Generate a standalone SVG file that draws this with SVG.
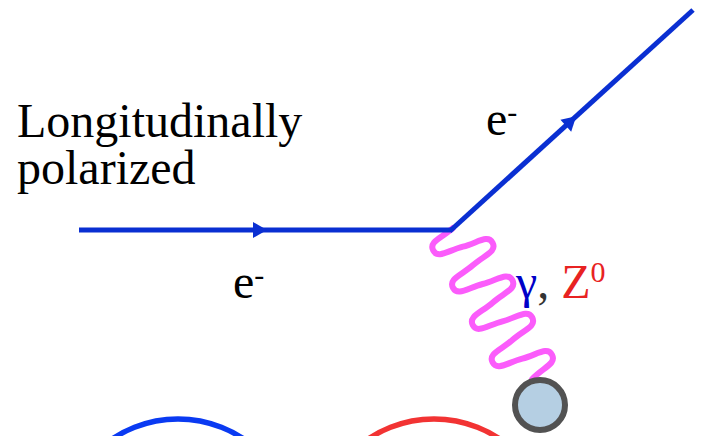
<svg xmlns="http://www.w3.org/2000/svg" width="702" height="436" viewBox="0 0 702 436">
<style>
.fermion{stroke:#0a2fd2;stroke-width:5;fill:none;stroke-linecap:butt}
.arrow{fill:#0a2fd2}
.boson{stroke:#fb5cfb;stroke-width:6;fill:none;stroke-linecap:round}
.txt{font-family:"Liberation Serif","Times New Roman",serif;font-size:48px;fill:#000}
.sup{font-size:30px}
</style>
<defs>
<path id="ah" d="M-7,-8 L7,0 L-7,8 Z"/>
</defs>
<rect width="702" height="436" fill="#fff"/>
<g id="connectors">
<path class="boson" d="M453,228 C441.69,237.98 428.51,241.62 433.2,250.46 C437.89,259.3 448.29,250.42 462.9,246.66 C477.51,242.9 487.91,234.02 492.6,242.86 C497.29,251.7 484.11,255.34 472.8,265.32 C461.49,275.3 448.31,278.94 453,287.78 C457.69,296.62 468.09,287.74 482.7,283.98 C497.31,280.22 507.71,271.34 512.4,280.18 C517.09,289.02 503.91,292.66 492.6,302.64 C481.29,312.62 468.11,316.26 472.8,325.1 C477.49,333.94 487.89,325.06 502.5,321.3 C517.11,317.54 527.51,308.66 532.2,317.5 C536.89,326.34 523.71,329.98 512.4,339.96 C501.09,349.94 487.91,353.58 492.6,362.42 C497.29,371.26 507.69,362.38 522.3,358.62 C536.91,354.86 547.31,345.98 552,354.82 C556.69,363.66 543.51,367.3 532.2,379"/>
<path class="fermion" d="M79,230 L452,230"/>
<path class="fermion" d="M450,231 L693,10"/>
<use href="#ah" class="arrow" transform="translate(260,230)"/>
<use href="#ah" class="arrow" transform="translate(571,121) rotate(-42.2)"/>
</g>
<g id="blob">
<circle cx="540" cy="405" r="25" fill="#b5cfe3" stroke="#525252" stroke-width="6"/>
</g>
<g id="arc-blue">
<circle cx="178" cy="537" r="118" fill="none" stroke="#0a3af2" stroke-width="5.5"/>
</g>
<g id="arc-red">
<circle cx="434" cy="537" r="118" fill="none" stroke="#f23333" stroke-width="5.5"/>
</g>
<g id="label-polarized">
<text class="txt" x="17" y="137">Longitudinally</text>
<text class="txt" x="17" y="184">polarized</text>
</g>
<g id="label-e-out">
<text class="txt" x="486" y="135">e<tspan class="sup" dy="-13">-</tspan></text>
</g>
<g id="label-e-in">
<text class="txt" x="233" y="298">e<tspan class="sup" dy="-13">-</tspan></text>
</g>
<g id="label-boson">
<text class="txt" x="516" y="298"><tspan fill="#0000c8">γ</tspan><tspan fill="#333">, </tspan><tspan fill="#e82222">Z</tspan><tspan class="sup" fill="#e82222" font-size="32" dy="-16">0</tspan></text>
</g>
</svg>
